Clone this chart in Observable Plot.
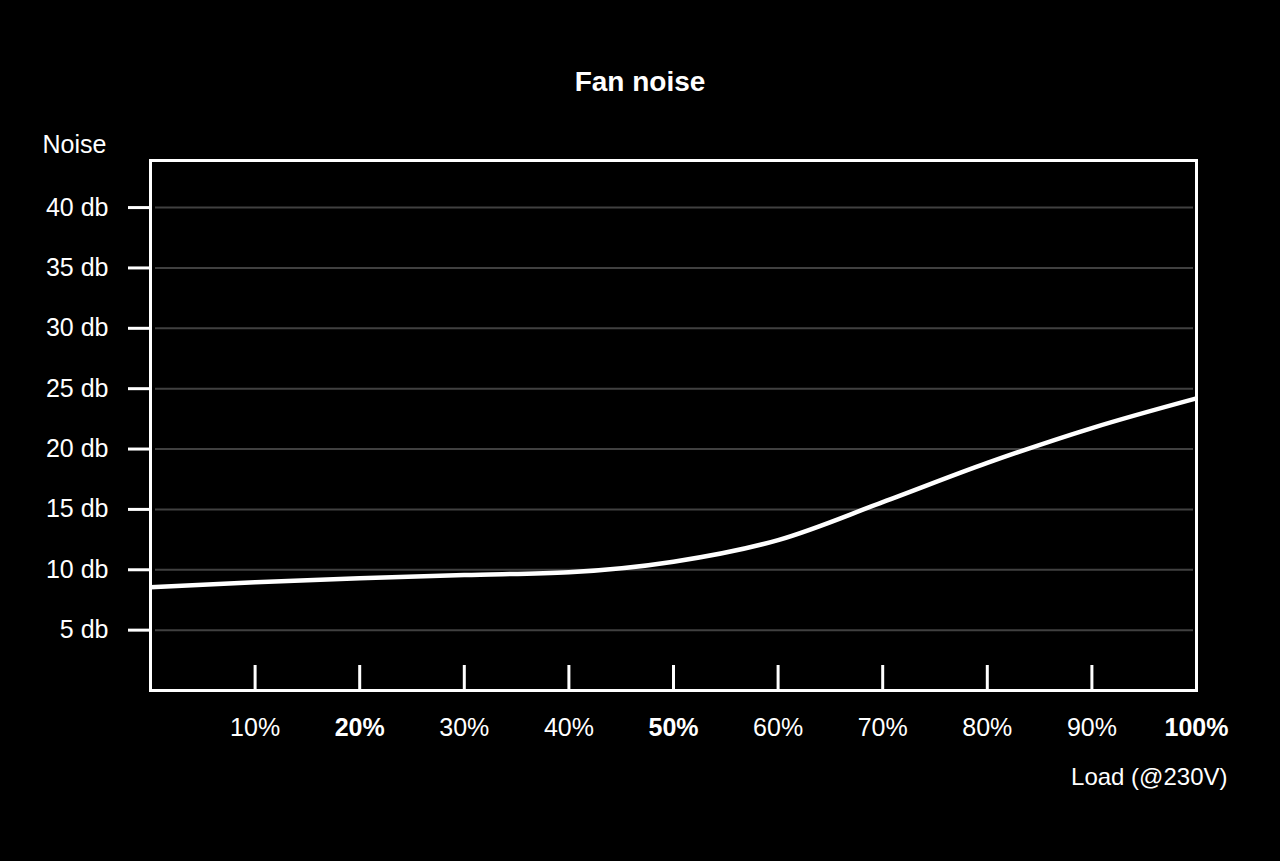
<!DOCTYPE html>
<html>
<head>
<meta charset="utf-8">
<script src="https://cdn.jsdelivr.net/npm/d3@7"></script>
<script src="https://cdn.jsdelivr.net/npm/@observablehq/plot@0.6"></script>
<style>
  html, body { margin: 0; padding: 0; background: #000; }
  body { width: 1280px; height: 861px; position: relative; overflow: hidden; font-family: "Liberation Sans", Arial, Helvetica, sans-serif; }
  #title { position: absolute; top: 64px; left: 0; width: 1280px; text-align: center; color: #fff; font-weight: bold; font-size: 28px; line-height: 36px; z-index: 2; }
  #chart { position: absolute; top: 0; left: 0; z-index: 1; }
</style>
</head>
<body>
<div id="title">Fan noise</div>
<div id="chart"></div>
<script>
// Data
const load = [0, 10, 20, 30, 40, 50, 60, 70, 80, 90, 100];           // % load
const noise = [8.55, 8.96, 9.29, 9.57, 9.8, 10.67, 12.46, 15.6, 18.85, 21.74, 24.2]; // db
const yTicks = [5, 10, 15, 20, 25, 30, 35, 40];
const xTickMarks = [10, 20, 30, 40, 50, 60, 70, 80, 90];
const xLabelsRegular = [10, 30, 40, 60, 70, 80, 90];
const xLabelsBold = [20, 50, 100];
const yLabel = "Noise";
const xLabel = "Load (@230V)";

const data = load.map((x, i) => ({x, y: noise[i]}));
const font = "Liberation Sans, Arial, Helvetica, sans-serif";

const chart = Plot.plot({
  width: 1280,
  height: 861,
  marginLeft: 150,
  marginRight: 84,
  marginTop: 160,
  marginBottom: 171,
  style: {background: "#000", color: "#fff", fontFamily: font, fontSize: "24px"},
  x: {domain: [0, 100]},
  y: {domain: [0, 43.9]},
  marks: [
    Plot.gridY(yTicks, {stroke: "#404040", strokeOpacity: 1, strokeWidth: 2, insetLeft: 5, insetRight: 3}),
    Plot.axisY(yTicks, {tickSize: 22, tickPadding: 20, strokeWidth: 3, stroke: "#fff", fill: "#fff",
      tickFormat: d => d + " db", fontSize: 25, label: null}),
    Plot.axisX(xTickMarks, {tickSize: -25, strokeWidth: 3, stroke: "#fff", tickFormat: () => "", label: null}),
    Plot.axisX(xLabelsRegular, {tickSize: 0, tickPadding: 28, fill: "#fff", fontSize: 25,
      tickFormat: d => d + "%", label: null}),
    Plot.axisX(xLabelsBold, {tickSize: 0, tickPadding: 28, fill: "#fff", fontSize: 25, fontWeight: "bold",
      tickFormat: d => d + "%", label: null}),
    Plot.lineY(data, {x: "x", y: "y", stroke: "#fff", strokeWidth: 4.5, curve: "monotone-x", clip: true}),
    Plot.frame({stroke: "#fff", strokeWidth: 3}),
    Plot.text([yLabel], {frameAnchor: "top-left", text: d => d, textAnchor: "start", dx: -108, dy: -25,
      fill: "#fff", fontSize: 25}),
    Plot.text([xLabel], {frameAnchor: "bottom-right", text: d => d, textAnchor: "end", dx: 31, dy: 94,
      fill: "#fff", fontSize: 24})
  ]
});
document.getElementById("chart").appendChild(chart);
</script>
</body>
</html>
